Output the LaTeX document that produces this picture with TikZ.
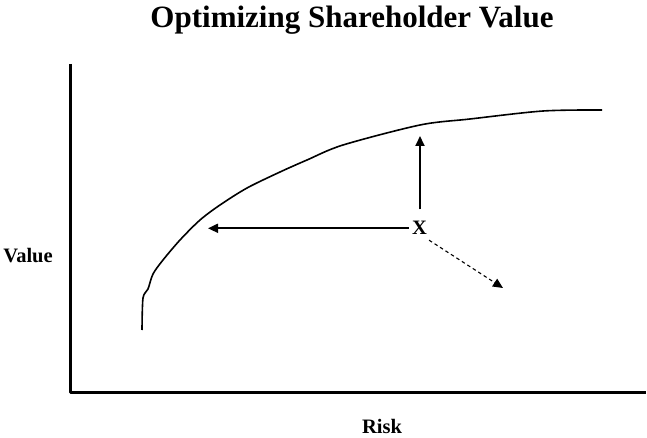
\documentclass[tikz,border=0pt]{standalone}
\usepackage{fontspec}
\setmainfont{Liberation Serif}
\usetikzlibrary{arrows.meta}

\begin{document}
\begin{tikzpicture}[x=1pt,y=-1pt, line join=round,
  axis/.style={line width=3pt},
  curve/.style={line width=1.6pt},
  move/.style={line width=1.8pt,-{Triangle[length=10pt,width=9pt]}},
  drift/.style={line width=1.1pt,dash pattern=on 3.5pt off 3pt,-{Triangle[length=10pt,width=9pt]}},
  lbl/.style={font=\bfseries\fontsize{20.5}{24}\selectfont, inner sep=0pt, anchor=base}]
\useasboundingbox (0,0) rectangle (647,438);

\node[font=\bfseries\fontsize{31}{36}\selectfont, inner sep=0pt, anchor=base] (title) at (352,28) {Optimizing Shareholder Value};

% axes
\coordinate (top) at (70,64);
\coordinate (origin) at (70,392);
\coordinate (right) at (646,392);
\draw[axis] (top) -- (origin) -- (right);
\node[lbl] (value) at (28,262) {Value};
\node[lbl] (risk) at (382,433) {Risk};

% frontier
\draw[curve] plot[smooth, tension=0.5] coordinates {(142,330) (143,298) (148,289) (153,274) (163,260) (180,240) (200,220) (220,205) (247,188) (280,172) (307,160) (343,145) (420,125) (470,119) (543,111) (602,110)};

% position X and the moves from it
\node[lbl] (x) at (419.5,235) {X};
\coordinate (left) at (208,228);
\coordinate (up) at (420,136);
\coordinate (down) at (503,288);
\draw[move] ([xshift=-3pt]x.west) -- (x.west -| left);
\draw[move] (x.north) ++(0.5,-12) -- (up);
\draw[drift] (x.south east) ++(2,5) -- (down);
\end{tikzpicture}
\end{document}
